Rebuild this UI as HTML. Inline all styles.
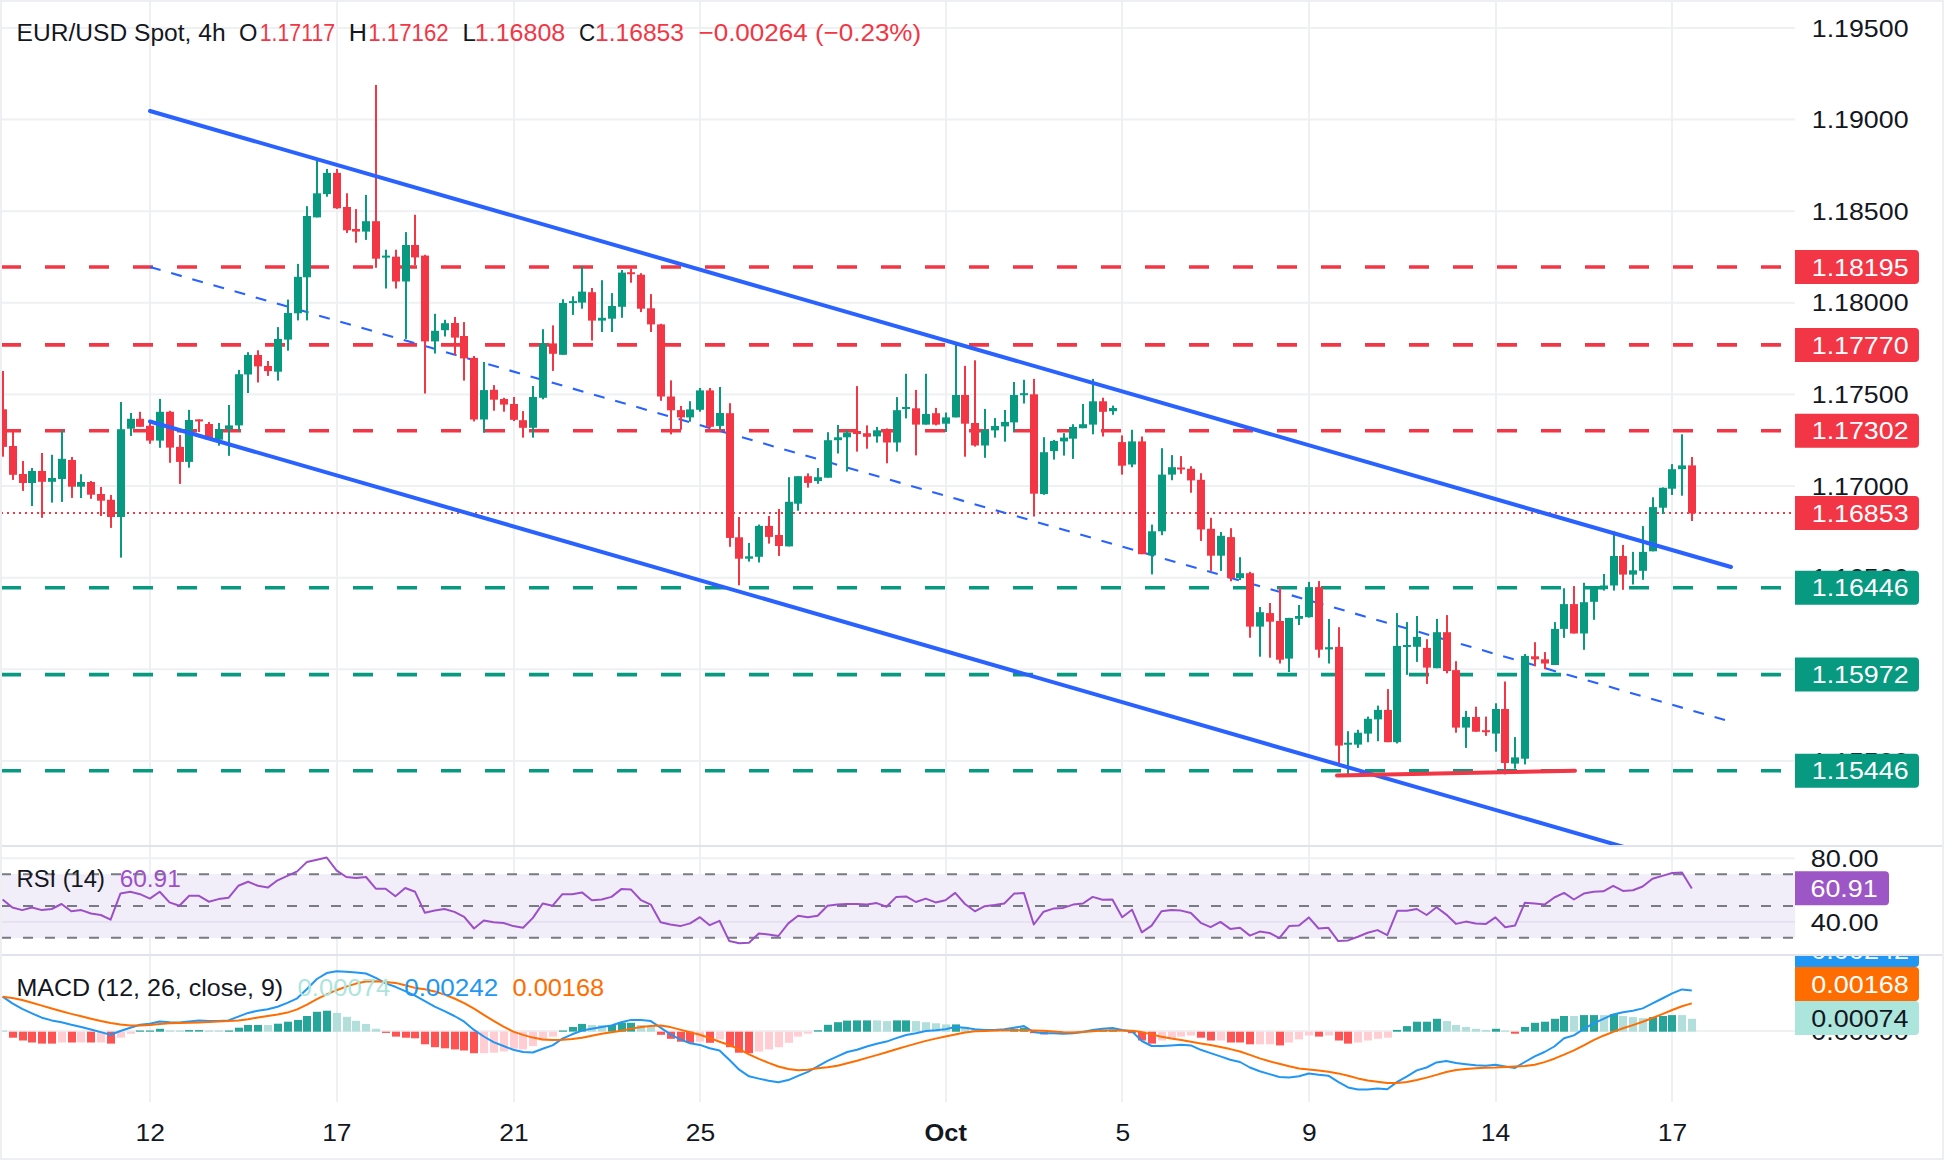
<!DOCTYPE html><html><head><meta charset="utf-8"><style>html,body{margin:0;padding:0;background:#fff;overflow:hidden;width:1944px;height:1160px;}svg{display:block;} text{font-family:"Liberation Sans", sans-serif;}</style></head><body>
<svg width="1944" height="1160" viewBox="0 0 1944 1160">
<rect x="0" y="0" width="1944" height="1160" fill="#fff"/>
<rect x="0" y="26.9" width="1795" height="2" fill="#EFF0F2"/>
<rect x="0" y="118.5" width="1795" height="2" fill="#EFF0F2"/>
<rect x="0" y="210.2" width="1795" height="2" fill="#EFF0F2"/>
<rect x="0" y="301.8" width="1795" height="2" fill="#EFF0F2"/>
<rect x="0" y="393.4" width="1795" height="2" fill="#EFF0F2"/>
<rect x="0" y="485.0" width="1795" height="2" fill="#EFF0F2"/>
<rect x="0" y="576.7" width="1795" height="2" fill="#EFF0F2"/>
<rect x="0" y="668.3" width="1795" height="2" fill="#EFF0F2"/>
<rect x="0" y="759.9" width="1795" height="2" fill="#EFF0F2"/>
<rect x="0" y="857.3" width="1795" height="2" fill="#EFF0F2"/>
<rect x="0" y="920.9" width="1795" height="2" fill="#EFF0F2"/>
<rect x="149" y="0" width="2" height="1102" fill="#EFF0F2"/>
<rect x="336" y="0" width="2" height="1102" fill="#EFF0F2"/>
<rect x="513" y="0" width="2" height="1102" fill="#EFF0F2"/>
<rect x="699" y="0" width="2" height="1102" fill="#EFF0F2"/>
<rect x="945" y="0" width="2" height="1102" fill="#EFF0F2"/>
<rect x="1121" y="0" width="2" height="1102" fill="#EFF0F2"/>
<rect x="1308" y="0" width="2" height="1102" fill="#EFF0F2"/>
<rect x="1495" y="0" width="2" height="1102" fill="#EFF0F2"/>
<rect x="1671" y="0" width="2" height="1102" fill="#EFF0F2"/>
<rect x="0" y="874.2" width="1795" height="63.8" fill="#F2EEF9"/>
<rect x="0" y="920.9" width="1795" height="2" fill="#E6E1F0"/>
<line x1="1" y1="874.2" x2="1795" y2="874.2" stroke="#787B86" stroke-width="2" stroke-dasharray="10 12"/>
<line x1="1" y1="906.0" x2="1795" y2="906.0" stroke="#787B86" stroke-width="2" stroke-dasharray="10 12"/>
<line x1="1" y1="937.8" x2="1795" y2="937.8" stroke="#787B86" stroke-width="2" stroke-dasharray="10 12"/>
<rect x="0" y="1030" width="1795" height="2" fill="#EFF0F2"/>
<line x1="1" y1="267.0" x2="1795" y2="267.0" stroke="#F23645" stroke-width="3.6" stroke-dasharray="20 24"/>
<line x1="1" y1="344.9" x2="1795" y2="344.9" stroke="#F23645" stroke-width="3.6" stroke-dasharray="20 24"/>
<line x1="1" y1="430.7" x2="1795" y2="430.7" stroke="#F23645" stroke-width="3.6" stroke-dasharray="20 24"/>
<line x1="1" y1="587.8" x2="1795" y2="587.8" stroke="#089981" stroke-width="3.6" stroke-dasharray="20 24"/>
<line x1="1" y1="674.6" x2="1795" y2="674.6" stroke="#089981" stroke-width="3.6" stroke-dasharray="20 24"/>
<line x1="1" y1="770.8" x2="1795" y2="770.8" stroke="#089981" stroke-width="3.6" stroke-dasharray="20 24"/>
<line x1="1" y1="513" x2="1795" y2="513" stroke="#F23645" stroke-width="2" stroke-dasharray="2 4"/>
<line x1="150" y1="267" x2="1725" y2="720" stroke="#2962FF" stroke-width="2.1" stroke-dasharray="11 11"/>
<rect x="2" y="371.0" width="2" height="85.7" fill="#F23645"/>
<rect x="-1" y="409.3" width="8" height="37.6" fill="#F23645"/>
<rect x="12" y="432.0" width="2" height="47.9" fill="#F23645"/>
<rect x="9" y="446.0" width="8" height="28.8" fill="#F23645"/>
<rect x="22" y="461.0" width="2" height="29.9" fill="#F23645"/>
<rect x="19" y="474.0" width="8" height="9.0" fill="#F23645"/>
<rect x="31" y="468.0" width="2" height="38.0" fill="#089981"/>
<rect x="28" y="471.0" width="8" height="12.0" fill="#089981"/>
<rect x="41" y="453.0" width="2" height="64.8" fill="#F23645"/>
<rect x="38" y="471.0" width="8" height="10.8" fill="#F23645"/>
<rect x="51" y="454.8" width="2" height="47.8" fill="#089981"/>
<rect x="48" y="478.0" width="8" height="3.8" fill="#089981"/>
<rect x="61" y="430.0" width="2" height="71.9" fill="#089981"/>
<rect x="58" y="458.8" width="8" height="20.2" fill="#089981"/>
<rect x="71" y="457.0" width="2" height="40.9" fill="#F23645"/>
<rect x="68" y="460.0" width="8" height="26.7" fill="#F23645"/>
<rect x="80" y="474.2" width="2" height="23.8" fill="#089981"/>
<rect x="77" y="482.0" width="8" height="4.7" fill="#089981"/>
<rect x="90" y="481.0" width="2" height="17.8" fill="#F23645"/>
<rect x="87" y="482.0" width="8" height="12.7" fill="#F23645"/>
<rect x="100" y="487.0" width="2" height="29.0" fill="#F23645"/>
<rect x="97" y="494.0" width="8" height="6.7" fill="#F23645"/>
<rect x="110" y="495.0" width="2" height="32.9" fill="#F23645"/>
<rect x="107" y="499.8" width="8" height="17.2" fill="#F23645"/>
<rect x="120" y="402.0" width="2" height="155.6" fill="#089981"/>
<rect x="117" y="429.2" width="8" height="87.8" fill="#089981"/>
<rect x="130" y="413.0" width="2" height="22.9" fill="#089981"/>
<rect x="127" y="418.8" width="8" height="9.9" fill="#089981"/>
<rect x="139" y="411.8" width="2" height="15.0" fill="#F23645"/>
<rect x="136" y="418.8" width="8" height="8.0" fill="#F23645"/>
<rect x="149" y="422.6" width="2" height="21.2" fill="#F23645"/>
<rect x="146" y="425.8" width="8" height="14.8" fill="#F23645"/>
<rect x="159" y="398.9" width="2" height="48.9" fill="#089981"/>
<rect x="156" y="411.8" width="8" height="28.8" fill="#089981"/>
<rect x="169" y="410.8" width="2" height="52.0" fill="#F23645"/>
<rect x="166" y="411.8" width="8" height="35.8" fill="#F23645"/>
<rect x="179" y="435.0" width="2" height="48.9" fill="#F23645"/>
<rect x="176" y="446.9" width="8" height="15.0" fill="#F23645"/>
<rect x="188" y="409.9" width="2" height="57.8" fill="#089981"/>
<rect x="185" y="420.0" width="8" height="41.9" fill="#089981"/>
<rect x="198" y="419.4" width="2" height="12.6" fill="#F23645"/>
<rect x="195" y="419.4" width="8" height="2.0" fill="#F23645"/>
<rect x="208" y="422.0" width="2" height="17.7" fill="#F23645"/>
<rect x="205" y="424.0" width="8" height="15.3" fill="#F23645"/>
<rect x="218" y="423.0" width="2" height="22.7" fill="#089981"/>
<rect x="215" y="429.0" width="8" height="10.7" fill="#089981"/>
<rect x="228" y="405.0" width="2" height="50.8" fill="#089981"/>
<rect x="225" y="425.4" width="8" height="3.8" fill="#089981"/>
<rect x="238" y="369.9" width="2" height="61.1" fill="#089981"/>
<rect x="235" y="374.2" width="8" height="51.2" fill="#089981"/>
<rect x="247" y="352.2" width="2" height="40.8" fill="#089981"/>
<rect x="244" y="355.0" width="8" height="19.5" fill="#089981"/>
<rect x="257" y="350.3" width="2" height="32.2" fill="#F23645"/>
<rect x="254" y="355.0" width="8" height="11.4" fill="#F23645"/>
<rect x="267" y="361.0" width="2" height="14.9" fill="#F23645"/>
<rect x="264" y="366.0" width="8" height="5.1" fill="#F23645"/>
<rect x="277" y="327.1" width="2" height="53.5" fill="#089981"/>
<rect x="274" y="338.9" width="8" height="32.8" fill="#089981"/>
<rect x="287" y="299.6" width="2" height="51.1" fill="#089981"/>
<rect x="284" y="313.0" width="8" height="26.6" fill="#089981"/>
<rect x="297" y="263.9" width="2" height="56.5" fill="#089981"/>
<rect x="294" y="276.8" width="8" height="36.5" fill="#089981"/>
<rect x="306" y="206.2" width="2" height="114.2" fill="#089981"/>
<rect x="303" y="216.0" width="8" height="61.3" fill="#089981"/>
<rect x="316" y="159.2" width="2" height="58.2" fill="#089981"/>
<rect x="313" y="193.3" width="8" height="24.1" fill="#089981"/>
<rect x="326" y="169.0" width="2" height="27.7" fill="#089981"/>
<rect x="323" y="172.9" width="8" height="21.2" fill="#089981"/>
<rect x="336" y="169.0" width="2" height="39.8" fill="#F23645"/>
<rect x="333" y="172.9" width="8" height="35.4" fill="#F23645"/>
<rect x="346" y="193.3" width="2" height="39.6" fill="#F23645"/>
<rect x="343" y="207.0" width="8" height="23.3" fill="#F23645"/>
<rect x="355" y="209.1" width="2" height="33.6" fill="#F23645"/>
<rect x="352" y="229.0" width="8" height="2.6" fill="#F23645"/>
<rect x="365" y="194.9" width="2" height="45.0" fill="#089981"/>
<rect x="362" y="221.2" width="8" height="10.4" fill="#089981"/>
<rect x="375" y="85.0" width="2" height="182.8" fill="#F23645"/>
<rect x="372" y="221.2" width="8" height="37.5" fill="#F23645"/>
<rect x="385" y="249.7" width="2" height="38.8" fill="#089981"/>
<rect x="382" y="255.6" width="8" height="2.0" fill="#089981"/>
<rect x="395" y="249.7" width="2" height="38.8" fill="#F23645"/>
<rect x="392" y="256.7" width="8" height="24.8" fill="#F23645"/>
<rect x="405" y="232.1" width="2" height="106.8" fill="#089981"/>
<rect x="402" y="245.0" width="8" height="36.5" fill="#089981"/>
<rect x="414" y="214.8" width="2" height="50.4" fill="#F23645"/>
<rect x="411" y="245.0" width="8" height="12.4" fill="#F23645"/>
<rect x="424" y="254.8" width="2" height="138.7" fill="#F23645"/>
<rect x="421" y="255.6" width="8" height="85.8" fill="#F23645"/>
<rect x="434" y="313.8" width="2" height="39.7" fill="#089981"/>
<rect x="431" y="330.8" width="8" height="10.6" fill="#089981"/>
<rect x="444" y="319.8" width="2" height="16.7" fill="#089981"/>
<rect x="441" y="323.2" width="8" height="7.0" fill="#089981"/>
<rect x="454" y="317.0" width="2" height="38.0" fill="#F23645"/>
<rect x="451" y="323.0" width="8" height="14.6" fill="#F23645"/>
<rect x="463" y="322.1" width="2" height="58.5" fill="#F23645"/>
<rect x="460" y="336.0" width="8" height="22.4" fill="#F23645"/>
<rect x="473" y="356.0" width="2" height="65.4" fill="#F23645"/>
<rect x="470" y="357.9" width="8" height="61.6" fill="#F23645"/>
<rect x="483" y="362.0" width="2" height="70.8" fill="#089981"/>
<rect x="480" y="390.1" width="8" height="29.4" fill="#089981"/>
<rect x="493" y="385.1" width="2" height="25.6" fill="#F23645"/>
<rect x="490" y="389.8" width="8" height="9.9" fill="#F23645"/>
<rect x="503" y="397.8" width="2" height="13.9" fill="#F23645"/>
<rect x="500" y="399.0" width="8" height="5.6" fill="#F23645"/>
<rect x="513" y="397.0" width="2" height="24.1" fill="#F23645"/>
<rect x="510" y="404.0" width="8" height="15.8" fill="#F23645"/>
<rect x="522" y="411.1" width="2" height="26.5" fill="#F23645"/>
<rect x="519" y="420.2" width="8" height="7.6" fill="#F23645"/>
<rect x="532" y="386.0" width="2" height="51.6" fill="#089981"/>
<rect x="529" y="397.0" width="8" height="30.8" fill="#089981"/>
<rect x="542" y="329.2" width="2" height="70.1" fill="#089981"/>
<rect x="539" y="343.4" width="8" height="54.4" fill="#089981"/>
<rect x="552" y="325.4" width="2" height="45.5" fill="#F23645"/>
<rect x="549" y="343.4" width="8" height="10.4" fill="#F23645"/>
<rect x="562" y="299.2" width="2" height="55.6" fill="#089981"/>
<rect x="559" y="303.0" width="8" height="51.8" fill="#089981"/>
<rect x="572" y="296.3" width="2" height="18.6" fill="#089981"/>
<rect x="569" y="301.1" width="8" height="2.0" fill="#089981"/>
<rect x="581" y="266.2" width="2" height="42.5" fill="#089981"/>
<rect x="578" y="291.6" width="8" height="11.0" fill="#089981"/>
<rect x="591" y="288.0" width="2" height="52.5" fill="#F23645"/>
<rect x="588" y="292.2" width="8" height="28.4" fill="#F23645"/>
<rect x="601" y="280.2" width="2" height="51.8" fill="#089981"/>
<rect x="598" y="317.8" width="8" height="2.8" fill="#089981"/>
<rect x="611" y="293.1" width="2" height="38.9" fill="#089981"/>
<rect x="608" y="306.0" width="8" height="12.7" fill="#089981"/>
<rect x="621" y="270.0" width="2" height="47.8" fill="#089981"/>
<rect x="618" y="272.6" width="8" height="34.2" fill="#089981"/>
<rect x="630" y="268.5" width="2" height="14.2" fill="#F23645"/>
<rect x="627" y="272.2" width="8" height="2.0" fill="#F23645"/>
<rect x="640" y="273.2" width="2" height="38.9" fill="#F23645"/>
<rect x="637" y="274.7" width="8" height="34.0" fill="#F23645"/>
<rect x="650" y="294.1" width="2" height="37.9" fill="#F23645"/>
<rect x="647" y="308.3" width="8" height="16.1" fill="#F23645"/>
<rect x="660" y="323.8" width="2" height="77.0" fill="#F23645"/>
<rect x="657" y="324.4" width="8" height="72.1" fill="#F23645"/>
<rect x="670" y="380.4" width="2" height="54.0" fill="#F23645"/>
<rect x="667" y="396.5" width="8" height="13.8" fill="#F23645"/>
<rect x="680" y="406.0" width="2" height="23.7" fill="#F23645"/>
<rect x="677" y="410.1" width="8" height="7.3" fill="#F23645"/>
<rect x="689" y="401.2" width="2" height="20.5" fill="#089981"/>
<rect x="686" y="409.4" width="8" height="8.0" fill="#089981"/>
<rect x="699" y="388.0" width="2" height="23.7" fill="#089981"/>
<rect x="696" y="390.4" width="8" height="19.4" fill="#089981"/>
<rect x="709" y="388.0" width="2" height="39.8" fill="#F23645"/>
<rect x="706" y="390.4" width="8" height="36.4" fill="#F23645"/>
<rect x="719" y="387.0" width="2" height="42.7" fill="#089981"/>
<rect x="716" y="413.0" width="8" height="12.9" fill="#089981"/>
<rect x="729" y="403.2" width="2" height="143.6" fill="#F23645"/>
<rect x="726" y="413.2" width="8" height="124.7" fill="#F23645"/>
<rect x="738" y="517.0" width="2" height="68.3" fill="#F23645"/>
<rect x="735" y="537.3" width="8" height="21.4" fill="#F23645"/>
<rect x="748" y="543.0" width="2" height="18.6" fill="#089981"/>
<rect x="745" y="556.3" width="8" height="2.4" fill="#089981"/>
<rect x="758" y="524.6" width="2" height="37.9" fill="#089981"/>
<rect x="755" y="525.9" width="8" height="30.9" fill="#089981"/>
<rect x="768" y="516.0" width="2" height="27.6" fill="#F23645"/>
<rect x="765" y="525.9" width="8" height="11.0" fill="#F23645"/>
<rect x="778" y="509.0" width="2" height="46.9" fill="#F23645"/>
<rect x="775" y="535.0" width="8" height="11.0" fill="#F23645"/>
<rect x="788" y="477.2" width="2" height="69.2" fill="#089981"/>
<rect x="785" y="501.8" width="8" height="44.6" fill="#089981"/>
<rect x="797" y="476.2" width="2" height="34.5" fill="#089981"/>
<rect x="794" y="476.2" width="8" height="27.5" fill="#089981"/>
<rect x="807" y="473.4" width="2" height="14.2" fill="#F23645"/>
<rect x="804" y="476.2" width="8" height="6.7" fill="#F23645"/>
<rect x="817" y="468.0" width="2" height="15.8" fill="#089981"/>
<rect x="814" y="477.2" width="8" height="3.8" fill="#089981"/>
<rect x="827" y="432.2" width="2" height="45.5" fill="#089981"/>
<rect x="824" y="440.2" width="8" height="37.5" fill="#089981"/>
<rect x="837" y="425.0" width="2" height="28.5" fill="#089981"/>
<rect x="834" y="437.3" width="8" height="2.9" fill="#089981"/>
<rect x="846" y="430.3" width="2" height="41.2" fill="#089981"/>
<rect x="843" y="432.6" width="8" height="4.7" fill="#089981"/>
<rect x="856" y="386.1" width="2" height="65.5" fill="#F23645"/>
<rect x="853" y="431.0" width="8" height="3.0" fill="#F23645"/>
<rect x="866" y="425.4" width="2" height="23.3" fill="#F23645"/>
<rect x="863" y="433.2" width="8" height="3.6" fill="#F23645"/>
<rect x="876" y="426.9" width="2" height="15.7" fill="#089981"/>
<rect x="873" y="430.3" width="8" height="6.1" fill="#089981"/>
<rect x="886" y="428.4" width="2" height="34.9" fill="#F23645"/>
<rect x="883" y="429.2" width="8" height="13.3" fill="#F23645"/>
<rect x="896" y="397.1" width="2" height="54.5" fill="#089981"/>
<rect x="893" y="410.2" width="8" height="32.3" fill="#089981"/>
<rect x="905" y="373.8" width="2" height="44.6" fill="#089981"/>
<rect x="902" y="407.0" width="8" height="2.0" fill="#089981"/>
<rect x="915" y="389.9" width="2" height="65.5" fill="#F23645"/>
<rect x="912" y="408.3" width="8" height="16.3" fill="#F23645"/>
<rect x="925" y="373.8" width="2" height="50.8" fill="#089981"/>
<rect x="922" y="414.0" width="8" height="10.6" fill="#089981"/>
<rect x="935" y="407.9" width="2" height="17.5" fill="#F23645"/>
<rect x="932" y="413.2" width="8" height="11.4" fill="#F23645"/>
<rect x="945" y="412.5" width="2" height="19.5" fill="#089981"/>
<rect x="942" y="417.4" width="8" height="6.3" fill="#089981"/>
<rect x="955" y="342.3" width="2" height="75.1" fill="#089981"/>
<rect x="952" y="395.0" width="8" height="22.4" fill="#089981"/>
<rect x="964" y="365.9" width="2" height="90.8" fill="#F23645"/>
<rect x="961" y="395.0" width="8" height="28.7" fill="#F23645"/>
<rect x="974" y="360.3" width="2" height="86.3" fill="#F23645"/>
<rect x="971" y="423.0" width="8" height="22.5" fill="#F23645"/>
<rect x="984" y="408.9" width="2" height="48.9" fill="#089981"/>
<rect x="981" y="429.8" width="8" height="15.7" fill="#089981"/>
<rect x="994" y="418.1" width="2" height="19.5" fill="#089981"/>
<rect x="991" y="426.0" width="8" height="4.4" fill="#089981"/>
<rect x="1004" y="410.0" width="2" height="31.7" fill="#089981"/>
<rect x="1001" y="421.9" width="8" height="4.5" fill="#089981"/>
<rect x="1013" y="382.0" width="2" height="50.0" fill="#089981"/>
<rect x="1010" y="395.0" width="8" height="27.4" fill="#089981"/>
<rect x="1023" y="379.8" width="2" height="23.7" fill="#089981"/>
<rect x="1020" y="393.2" width="8" height="2.0" fill="#089981"/>
<rect x="1033" y="378.9" width="2" height="137.6" fill="#F23645"/>
<rect x="1030" y="394.3" width="8" height="99.4" fill="#F23645"/>
<rect x="1043" y="437.2" width="2" height="57.6" fill="#089981"/>
<rect x="1040" y="452.2" width="8" height="41.9" fill="#089981"/>
<rect x="1053" y="439.9" width="2" height="19.7" fill="#089981"/>
<rect x="1050" y="441.0" width="8" height="10.1" fill="#089981"/>
<rect x="1063" y="433.1" width="2" height="22.5" fill="#089981"/>
<rect x="1060" y="437.6" width="8" height="3.8" fill="#089981"/>
<rect x="1072" y="424.2" width="2" height="34.7" fill="#089981"/>
<rect x="1069" y="426.9" width="8" height="11.8" fill="#089981"/>
<rect x="1082" y="404.0" width="2" height="24.2" fill="#089981"/>
<rect x="1079" y="424.2" width="8" height="4.0" fill="#089981"/>
<rect x="1092" y="378.9" width="2" height="55.4" fill="#089981"/>
<rect x="1089" y="401.3" width="8" height="23.3" fill="#089981"/>
<rect x="1102" y="397.7" width="2" height="38.8" fill="#F23645"/>
<rect x="1099" y="401.3" width="8" height="10.5" fill="#F23645"/>
<rect x="1112" y="405.6" width="2" height="9.2" fill="#089981"/>
<rect x="1109" y="408.0" width="8" height="3.2" fill="#089981"/>
<rect x="1121" y="435.4" width="2" height="39.2" fill="#F23645"/>
<rect x="1118" y="442.1" width="8" height="23.6" fill="#F23645"/>
<rect x="1131" y="429.8" width="2" height="37.4" fill="#089981"/>
<rect x="1128" y="441.4" width="8" height="23.1" fill="#089981"/>
<rect x="1141" y="436.5" width="2" height="117.7" fill="#F23645"/>
<rect x="1138" y="441.4" width="8" height="112.8" fill="#F23645"/>
<rect x="1151" y="524.6" width="2" height="49.8" fill="#089981"/>
<rect x="1148" y="531.3" width="8" height="24.0" fill="#089981"/>
<rect x="1161" y="448.2" width="2" height="87.0" fill="#089981"/>
<rect x="1158" y="474.6" width="8" height="56.7" fill="#089981"/>
<rect x="1171" y="455.1" width="2" height="25.1" fill="#089981"/>
<rect x="1168" y="467.2" width="8" height="7.4" fill="#089981"/>
<rect x="1180" y="456.1" width="2" height="17.7" fill="#F23645"/>
<rect x="1177" y="467.5" width="8" height="2.0" fill="#F23645"/>
<rect x="1190" y="466.2" width="2" height="26.5" fill="#F23645"/>
<rect x="1187" y="468.8" width="8" height="11.6" fill="#F23645"/>
<rect x="1200" y="473.2" width="2" height="67.7" fill="#F23645"/>
<rect x="1197" y="479.8" width="8" height="49.7" fill="#F23645"/>
<rect x="1210" y="517.8" width="2" height="53.1" fill="#F23645"/>
<rect x="1207" y="528.8" width="8" height="26.9" fill="#F23645"/>
<rect x="1220" y="532.0" width="2" height="38.9" fill="#089981"/>
<rect x="1217" y="535.8" width="8" height="19.9" fill="#089981"/>
<rect x="1230" y="528.2" width="2" height="53.1" fill="#F23645"/>
<rect x="1227" y="537.1" width="8" height="41.0" fill="#F23645"/>
<rect x="1239" y="557.2" width="2" height="22.8" fill="#089981"/>
<rect x="1236" y="573.2" width="8" height="4.9" fill="#089981"/>
<rect x="1249" y="571.8" width="2" height="65.9" fill="#F23645"/>
<rect x="1246" y="573.2" width="8" height="53.4" fill="#F23645"/>
<rect x="1259" y="607.0" width="2" height="49.7" fill="#089981"/>
<rect x="1256" y="612.2" width="8" height="14.4" fill="#089981"/>
<rect x="1269" y="603.0" width="2" height="54.7" fill="#F23645"/>
<rect x="1266" y="613.1" width="8" height="8.6" fill="#F23645"/>
<rect x="1279" y="587.1" width="2" height="76.4" fill="#F23645"/>
<rect x="1276" y="621.0" width="8" height="38.7" fill="#F23645"/>
<rect x="1288" y="617.9" width="2" height="54.1" fill="#089981"/>
<rect x="1285" y="617.9" width="8" height="40.7" fill="#089981"/>
<rect x="1298" y="605.0" width="2" height="20.0" fill="#089981"/>
<rect x="1295" y="616.0" width="8" height="2.8" fill="#089981"/>
<rect x="1308" y="581.9" width="2" height="35.7" fill="#089981"/>
<rect x="1305" y="587.1" width="8" height="30.1" fill="#089981"/>
<rect x="1318" y="581.1" width="2" height="76.6" fill="#F23645"/>
<rect x="1315" y="587.1" width="8" height="62.6" fill="#F23645"/>
<rect x="1328" y="619.0" width="2" height="44.5" fill="#089981"/>
<rect x="1325" y="647.2" width="8" height="2.2" fill="#089981"/>
<rect x="1338" y="627.2" width="2" height="138.3" fill="#F23645"/>
<rect x="1335" y="646.9" width="8" height="98.7" fill="#F23645"/>
<rect x="1347" y="731.2" width="2" height="43.2" fill="#089981"/>
<rect x="1344" y="742.7" width="8" height="2.0" fill="#089981"/>
<rect x="1357" y="729.8" width="2" height="18.1" fill="#089981"/>
<rect x="1354" y="732.7" width="8" height="11.9" fill="#089981"/>
<rect x="1367" y="716.6" width="2" height="25.6" fill="#089981"/>
<rect x="1364" y="718.8" width="8" height="14.8" fill="#089981"/>
<rect x="1377" y="705.6" width="2" height="35.6" fill="#089981"/>
<rect x="1374" y="709.9" width="8" height="9.5" fill="#089981"/>
<rect x="1387" y="689.1" width="2" height="53.1" fill="#F23645"/>
<rect x="1384" y="709.9" width="8" height="32.3" fill="#F23645"/>
<rect x="1396" y="613.1" width="2" height="130.4" fill="#089981"/>
<rect x="1393" y="645.9" width="8" height="96.3" fill="#089981"/>
<rect x="1406" y="622.1" width="2" height="52.7" fill="#089981"/>
<rect x="1403" y="645.0" width="8" height="2.0" fill="#089981"/>
<rect x="1416" y="616.0" width="2" height="45.9" fill="#089981"/>
<rect x="1413" y="636.9" width="8" height="9.9" fill="#089981"/>
<rect x="1426" y="639.2" width="2" height="44.7" fill="#F23645"/>
<rect x="1423" y="647.9" width="8" height="19.7" fill="#F23645"/>
<rect x="1436" y="618.9" width="2" height="49.3" fill="#089981"/>
<rect x="1433" y="632.2" width="8" height="36.0" fill="#089981"/>
<rect x="1446" y="615.1" width="2" height="58.2" fill="#F23645"/>
<rect x="1443" y="632.2" width="8" height="38.8" fill="#F23645"/>
<rect x="1455" y="661.2" width="2" height="71.5" fill="#F23645"/>
<rect x="1452" y="670.1" width="8" height="57.5" fill="#F23645"/>
<rect x="1465" y="710.9" width="2" height="37.0" fill="#089981"/>
<rect x="1462" y="717.0" width="8" height="10.6" fill="#089981"/>
<rect x="1475" y="706.7" width="2" height="25.0" fill="#F23645"/>
<rect x="1472" y="717.0" width="8" height="14.7" fill="#F23645"/>
<rect x="1485" y="716.6" width="2" height="19.3" fill="#F23645"/>
<rect x="1482" y="730.2" width="8" height="2.0" fill="#F23645"/>
<rect x="1495" y="703.3" width="2" height="48.4" fill="#089981"/>
<rect x="1492" y="709.0" width="8" height="24.6" fill="#089981"/>
<rect x="1504" y="681.5" width="2" height="92.9" fill="#F23645"/>
<rect x="1501" y="709.0" width="8" height="54.0" fill="#F23645"/>
<rect x="1514" y="737.1" width="2" height="31.6" fill="#089981"/>
<rect x="1511" y="757.4" width="8" height="6.2" fill="#089981"/>
<rect x="1524" y="654.0" width="2" height="110.4" fill="#089981"/>
<rect x="1521" y="655.9" width="8" height="102.8" fill="#089981"/>
<rect x="1534" y="642.2" width="2" height="24.1" fill="#F23645"/>
<rect x="1531" y="656.3" width="8" height="3.0" fill="#F23645"/>
<rect x="1544" y="652.1" width="2" height="17.1" fill="#F23645"/>
<rect x="1541" y="659.3" width="8" height="4.2" fill="#F23645"/>
<rect x="1554" y="622.1" width="2" height="42.9" fill="#089981"/>
<rect x="1551" y="628.9" width="8" height="36.1" fill="#089981"/>
<rect x="1563" y="588.3" width="2" height="49.6" fill="#089981"/>
<rect x="1560" y="604.1" width="8" height="24.8" fill="#089981"/>
<rect x="1573" y="586.1" width="2" height="47.4" fill="#F23645"/>
<rect x="1570" y="604.1" width="8" height="29.4" fill="#F23645"/>
<rect x="1583" y="582.8" width="2" height="67.0" fill="#089981"/>
<rect x="1580" y="602.2" width="8" height="31.3" fill="#089981"/>
<rect x="1593" y="586.0" width="2" height="33.8" fill="#089981"/>
<rect x="1590" y="588.3" width="8" height="13.5" fill="#089981"/>
<rect x="1603" y="574.0" width="2" height="16.6" fill="#089981"/>
<rect x="1600" y="585.5" width="8" height="3.7" fill="#089981"/>
<rect x="1613" y="531.4" width="2" height="59.2" fill="#089981"/>
<rect x="1610" y="556.0" width="8" height="29.5" fill="#089981"/>
<rect x="1622" y="545.0" width="2" height="44.8" fill="#F23645"/>
<rect x="1619" y="556.0" width="8" height="18.6" fill="#F23645"/>
<rect x="1632" y="551.9" width="2" height="32.6" fill="#089981"/>
<rect x="1629" y="570.3" width="8" height="4.3" fill="#089981"/>
<rect x="1642" y="526.1" width="2" height="53.7" fill="#089981"/>
<rect x="1639" y="551.9" width="8" height="18.9" fill="#089981"/>
<rect x="1652" y="497.3" width="2" height="54.0" fill="#089981"/>
<rect x="1649" y="507.1" width="8" height="44.2" fill="#089981"/>
<rect x="1662" y="487.4" width="2" height="26.6" fill="#089981"/>
<rect x="1659" y="487.8" width="8" height="19.9" fill="#089981"/>
<rect x="1671" y="464.1" width="2" height="30.9" fill="#089981"/>
<rect x="1668" y="469.2" width="8" height="19.5" fill="#089981"/>
<rect x="1681" y="434.3" width="2" height="61.4" fill="#089981"/>
<rect x="1678" y="465.4" width="8" height="3.8" fill="#089981"/>
<rect x="1691" y="457.0" width="2" height="64.0" fill="#F23645"/>
<rect x="1688" y="465.4" width="8" height="48.0" fill="#F23645"/>
<line x1="150" y1="111" x2="1731" y2="567" stroke="#2962FF" stroke-width="4" stroke-linecap="round"/>
<clipPath id="mainclip"><rect x="0" y="0" width="1795" height="845"/></clipPath>
<line clip-path="url(#mainclip)" x1="150" y1="421.5" x2="1625" y2="847.3" stroke="#2962FF" stroke-width="4" stroke-linecap="round"/>
<line x1="1337" y1="775.4" x2="1575" y2="770.8" stroke="#F23645" stroke-width="4" stroke-linecap="round"/>
<polyline points="2.6,899.5 12.4,907.5 22.2,910.1 32.0,907.5 41.9,910.1 51.7,909.0 61.5,904.0 71.3,911.3 81.2,910.1 91.0,913.5 100.8,915.0 110.6,919.7 120.4,893.6 130.3,891.8 140.1,894.2 149.9,898.6 159.7,891.8 169.5,902.4 179.4,905.7 189.2,895.8 199.0,895.8 208.8,901.7 218.6,899.1 228.5,897.8 238.3,885.8 248.1,881.8 257.9,885.8 267.8,887.6 277.6,880.3 287.4,875.9 297.2,871.4 307.0,861.9 316.9,859.7 326.7,857.5 336.5,870.3 346.3,877.0 356.1,878.1 366.0,877.0 375.8,888.7 385.6,888.7 395.4,896.2 405.2,888.0 415.1,891.8 424.9,912.8 434.7,910.6 444.5,909.0 454.4,911.9 464.2,916.8 474.0,928.5 483.8,920.5 493.6,922.3 503.5,923.0 513.3,926.1 523.1,927.8 532.9,917.9 542.7,903.5 552.6,905.7 562.4,894.2 572.2,894.2 582.0,892.4 591.8,900.2 601.7,899.5 611.5,896.9 621.3,889.1 631.1,889.6 641.0,900.2 650.8,904.6 660.6,922.3 670.4,924.5 680.2,926.1 690.1,923.4 699.9,917.2 709.7,925.2 719.5,920.8 729.3,941.1 739.2,943.3 749.0,942.7 758.8,933.4 768.6,934.5 778.4,936.0 788.3,923.4 798.1,915.7 807.9,917.2 817.7,915.7 827.5,905.7 837.4,904.6 847.2,904.0 857.0,904.0 866.8,904.6 876.7,903.1 886.5,906.8 896.3,896.9 906.1,896.4 915.9,902.0 925.8,898.6 935.6,902.4 945.4,900.2 955.2,892.9 965.0,904.0 974.9,911.3 984.7,906.2 994.5,905.1 1004.3,903.5 1014.1,893.6 1024.0,893.1 1033.8,924.5 1043.6,911.7 1053.4,908.6 1063.3,907.9 1073.1,904.6 1082.9,903.5 1092.7,896.9 1102.5,899.7 1112.4,899.5 1122.2,917.2 1132.0,909.7 1141.8,932.3 1151.6,925.6 1161.5,911.3 1171.3,910.1 1181.1,910.6 1190.9,913.0 1200.7,922.8 1210.6,927.2 1220.4,921.9 1230.2,928.9 1240.0,927.8 1249.9,935.6 1259.7,931.6 1269.5,932.9 1279.3,938.2 1289.1,926.1 1299.0,925.6 1308.8,917.4 1318.6,928.5 1328.4,927.8 1338.2,941.1 1348.1,940.4 1357.9,936.7 1367.7,932.7 1377.5,930.1 1387.3,935.1 1397.2,910.8 1407.0,910.8 1416.8,909.0 1426.6,915.0 1436.5,907.3 1446.3,914.6 1456.1,923.9 1465.9,921.6 1475.7,923.6 1485.6,924.1 1495.4,917.4 1505.2,927.2 1515.0,925.6 1524.8,902.8 1534.7,903.5 1544.5,904.6 1554.3,897.5 1564.1,892.9 1573.9,899.5 1583.8,893.6 1593.6,891.8 1603.4,891.3 1613.2,885.8 1623.0,890.9 1632.9,890.2 1642.7,886.5 1652.5,878.7 1662.3,875.9 1672.2,873.0 1682.0,872.5 1691.8,888.5" fill="none" stroke="#9C50C8" stroke-width="2" stroke-linejoin="round"/>
<rect x="-1" y="1030.5" width="8" height="1.2" fill="#B2DFDB"/>
<rect x="9" y="1031.7" width="8" height="6.0" fill="#FF5252"/>
<rect x="19" y="1031.7" width="8" height="8.8" fill="#FF5252"/>
<rect x="28" y="1031.7" width="8" height="10.8" fill="#FF5252"/>
<rect x="38" y="1031.7" width="8" height="11.9" fill="#FF5252"/>
<rect x="48" y="1031.7" width="8" height="11.9" fill="#FF5252"/>
<rect x="58" y="1031.7" width="8" height="10.8" fill="#FFCDD2"/>
<rect x="68" y="1031.7" width="8" height="10.8" fill="#FF5252"/>
<rect x="77" y="1031.7" width="8" height="10.8" fill="#FFCDD2"/>
<rect x="87" y="1031.7" width="8" height="10.8" fill="#FF5252"/>
<rect x="97" y="1031.7" width="8" height="10.8" fill="#FFCDD2"/>
<rect x="107" y="1031.7" width="8" height="11.9" fill="#FF5252"/>
<rect x="117" y="1031.7" width="8" height="6.0" fill="#FFCDD2"/>
<rect x="127" y="1031.7" width="8" height="2.0" fill="#FFCDD2"/>
<rect x="136" y="1030.5" width="8" height="1.2" fill="#26A69A"/>
<rect x="146" y="1030.5" width="8" height="1.2" fill="#26A69A"/>
<rect x="156" y="1028.8" width="8" height="2.9" fill="#26A69A"/>
<rect x="166" y="1030.5" width="8" height="1.2" fill="#B2DFDB"/>
<rect x="176" y="1030.5" width="8" height="1.2" fill="#B2DFDB"/>
<rect x="185" y="1030.1" width="8" height="1.5" fill="#26A69A"/>
<rect x="195" y="1030.1" width="8" height="1.5" fill="#26A69A"/>
<rect x="205" y="1030.5" width="8" height="1.2" fill="#B2DFDB"/>
<rect x="215" y="1030.5" width="8" height="1.2" fill="#B2DFDB"/>
<rect x="225" y="1030.5" width="8" height="1.2" fill="#26A69A"/>
<rect x="235" y="1027.7" width="8" height="4.0" fill="#26A69A"/>
<rect x="244" y="1025.0" width="8" height="6.6" fill="#26A69A"/>
<rect x="254" y="1025.0" width="8" height="6.6" fill="#26A69A"/>
<rect x="264" y="1025.0" width="8" height="6.6" fill="#B2DFDB"/>
<rect x="274" y="1023.7" width="8" height="8.0" fill="#26A69A"/>
<rect x="284" y="1021.7" width="8" height="10.0" fill="#26A69A"/>
<rect x="294" y="1019.9" width="8" height="11.7" fill="#26A69A"/>
<rect x="303" y="1016.0" width="8" height="15.7" fill="#26A69A"/>
<rect x="313" y="1011.8" width="8" height="19.9" fill="#26A69A"/>
<rect x="323" y="1010.7" width="8" height="21.0" fill="#26A69A"/>
<rect x="333" y="1012.9" width="8" height="18.8" fill="#B2DFDB"/>
<rect x="343" y="1016.8" width="8" height="14.8" fill="#B2DFDB"/>
<rect x="352" y="1020.8" width="8" height="10.8" fill="#B2DFDB"/>
<rect x="362" y="1023.9" width="8" height="7.7" fill="#B2DFDB"/>
<rect x="372" y="1028.8" width="8" height="2.9" fill="#B2DFDB"/>
<rect x="382" y="1031.7" width="8" height="1.2" fill="#FF5252"/>
<rect x="392" y="1031.7" width="8" height="4.9" fill="#FF5252"/>
<rect x="402" y="1031.7" width="8" height="6.0" fill="#FF5252"/>
<rect x="411" y="1031.7" width="8" height="6.6" fill="#FF5252"/>
<rect x="421" y="1031.7" width="8" height="12.6" fill="#FF5252"/>
<rect x="431" y="1031.7" width="8" height="15.5" fill="#FF5252"/>
<rect x="441" y="1031.7" width="8" height="16.6" fill="#FF5252"/>
<rect x="451" y="1031.7" width="8" height="17.7" fill="#FF5252"/>
<rect x="460" y="1031.7" width="8" height="18.8" fill="#FF5252"/>
<rect x="470" y="1031.7" width="8" height="21.5" fill="#FF5252"/>
<rect x="480" y="1031.7" width="8" height="21.5" fill="#FFCDD2"/>
<rect x="490" y="1031.7" width="8" height="21.0" fill="#FFCDD2"/>
<rect x="500" y="1031.7" width="8" height="19.7" fill="#FFCDD2"/>
<rect x="510" y="1031.7" width="8" height="17.0" fill="#FFCDD2"/>
<rect x="519" y="1031.7" width="8" height="17.7" fill="#FFCDD2"/>
<rect x="529" y="1031.7" width="8" height="14.4" fill="#FFCDD2"/>
<rect x="539" y="1031.7" width="8" height="8.8" fill="#FFCDD2"/>
<rect x="549" y="1031.7" width="8" height="4.9" fill="#FFCDD2"/>
<rect x="559" y="1030.5" width="8" height="1.2" fill="#26A69A"/>
<rect x="569" y="1027.0" width="8" height="4.6" fill="#26A69A"/>
<rect x="578" y="1023.9" width="8" height="7.7" fill="#26A69A"/>
<rect x="588" y="1025.0" width="8" height="6.6" fill="#B2DFDB"/>
<rect x="598" y="1025.0" width="8" height="6.6" fill="#B2DFDB"/>
<rect x="608" y="1025.0" width="8" height="6.6" fill="#26A69A"/>
<rect x="618" y="1022.6" width="8" height="9.1" fill="#26A69A"/>
<rect x="627" y="1022.8" width="8" height="8.8" fill="#26A69A"/>
<rect x="637" y="1025.0" width="8" height="6.6" fill="#B2DFDB"/>
<rect x="647" y="1026.6" width="8" height="5.1" fill="#B2DFDB"/>
<rect x="657" y="1031.7" width="8" height="3.1" fill="#FF5252"/>
<rect x="667" y="1031.7" width="8" height="7.1" fill="#FF5252"/>
<rect x="677" y="1031.7" width="8" height="10.0" fill="#FF5252"/>
<rect x="686" y="1031.7" width="8" height="11.1" fill="#FF5252"/>
<rect x="696" y="1031.7" width="8" height="10.0" fill="#FFCDD2"/>
<rect x="706" y="1031.7" width="8" height="11.1" fill="#FF5252"/>
<rect x="716" y="1031.7" width="8" height="7.7" fill="#FFCDD2"/>
<rect x="726" y="1031.7" width="8" height="15.5" fill="#FF5252"/>
<rect x="735" y="1031.7" width="8" height="21.0" fill="#FF5252"/>
<rect x="745" y="1031.7" width="8" height="21.5" fill="#FF5252"/>
<rect x="755" y="1031.7" width="8" height="19.9" fill="#FFCDD2"/>
<rect x="765" y="1031.7" width="8" height="17.7" fill="#FFCDD2"/>
<rect x="775" y="1031.7" width="8" height="15.5" fill="#FFCDD2"/>
<rect x="785" y="1031.7" width="8" height="11.1" fill="#FFCDD2"/>
<rect x="794" y="1031.7" width="8" height="4.9" fill="#FFCDD2"/>
<rect x="804" y="1031.7" width="8" height="2.0" fill="#FFCDD2"/>
<rect x="814" y="1030.3" width="8" height="1.3" fill="#26A69A"/>
<rect x="824" y="1024.8" width="8" height="6.9" fill="#26A69A"/>
<rect x="834" y="1022.2" width="8" height="9.5" fill="#26A69A"/>
<rect x="843" y="1020.6" width="8" height="11.1" fill="#26A69A"/>
<rect x="853" y="1020.4" width="8" height="11.3" fill="#26A69A"/>
<rect x="863" y="1020.4" width="8" height="11.3" fill="#26A69A"/>
<rect x="873" y="1020.4" width="8" height="11.3" fill="#B2DFDB"/>
<rect x="883" y="1021.1" width="8" height="10.6" fill="#B2DFDB"/>
<rect x="893" y="1020.4" width="8" height="11.3" fill="#26A69A"/>
<rect x="902" y="1020.4" width="8" height="11.3" fill="#26A69A"/>
<rect x="912" y="1021.1" width="8" height="10.6" fill="#B2DFDB"/>
<rect x="922" y="1022.2" width="8" height="9.5" fill="#B2DFDB"/>
<rect x="932" y="1023.3" width="8" height="8.4" fill="#B2DFDB"/>
<rect x="942" y="1024.4" width="8" height="7.3" fill="#B2DFDB"/>
<rect x="952" y="1024.4" width="8" height="7.3" fill="#26A69A"/>
<rect x="961" y="1027.0" width="8" height="4.6" fill="#B2DFDB"/>
<rect x="971" y="1029.9" width="8" height="1.8" fill="#B2DFDB"/>
<rect x="981" y="1030.5" width="8" height="1.2" fill="#B2DFDB"/>
<rect x="991" y="1030.5" width="8" height="1.2" fill="#B2DFDB"/>
<rect x="1001" y="1030.5" width="8" height="1.2" fill="#B2DFDB"/>
<rect x="1010" y="1028.8" width="8" height="2.9" fill="#26A69A"/>
<rect x="1020" y="1027.7" width="8" height="4.0" fill="#26A69A"/>
<rect x="1030" y="1031.7" width="8" height="1.5" fill="#FF5252"/>
<rect x="1040" y="1031.7" width="8" height="2.7" fill="#FF5252"/>
<rect x="1050" y="1031.7" width="8" height="2.0" fill="#FFCDD2"/>
<rect x="1060" y="1031.7" width="8" height="1.2" fill="#FFCDD2"/>
<rect x="1069" y="1031.7" width="8" height="1.2" fill="#FFCDD2"/>
<rect x="1079" y="1030.5" width="8" height="1.2" fill="#B2DFDB"/>
<rect x="1089" y="1030.5" width="8" height="1.2" fill="#26A69A"/>
<rect x="1099" y="1029.9" width="8" height="1.8" fill="#26A69A"/>
<rect x="1109" y="1029.5" width="8" height="2.2" fill="#26A69A"/>
<rect x="1118" y="1030.5" width="8" height="1.2" fill="#B2DFDB"/>
<rect x="1128" y="1031.7" width="8" height="1.5" fill="#FF5252"/>
<rect x="1138" y="1031.7" width="8" height="8.8" fill="#FF5252"/>
<rect x="1148" y="1031.7" width="8" height="11.9" fill="#FF5252"/>
<rect x="1158" y="1031.7" width="8" height="8.8" fill="#FFCDD2"/>
<rect x="1168" y="1031.7" width="8" height="6.6" fill="#FFCDD2"/>
<rect x="1177" y="1031.7" width="8" height="4.9" fill="#FFCDD2"/>
<rect x="1187" y="1031.7" width="8" height="3.8" fill="#FFCDD2"/>
<rect x="1197" y="1031.7" width="8" height="6.0" fill="#FF5252"/>
<rect x="1207" y="1031.7" width="8" height="8.8" fill="#FF5252"/>
<rect x="1217" y="1031.7" width="8" height="8.8" fill="#FFCDD2"/>
<rect x="1227" y="1031.7" width="8" height="10.8" fill="#FF5252"/>
<rect x="1236" y="1031.7" width="8" height="10.8" fill="#FF5252"/>
<rect x="1246" y="1031.7" width="8" height="12.6" fill="#FF5252"/>
<rect x="1256" y="1031.7" width="8" height="12.6" fill="#FFCDD2"/>
<rect x="1266" y="1031.7" width="8" height="12.6" fill="#FFCDD2"/>
<rect x="1276" y="1031.7" width="8" height="13.7" fill="#FF5252"/>
<rect x="1285" y="1031.7" width="8" height="10.8" fill="#FFCDD2"/>
<rect x="1295" y="1031.7" width="8" height="7.7" fill="#FFCDD2"/>
<rect x="1305" y="1031.7" width="8" height="3.8" fill="#FFCDD2"/>
<rect x="1315" y="1031.7" width="8" height="4.9" fill="#FF5252"/>
<rect x="1325" y="1031.7" width="8" height="3.8" fill="#FFCDD2"/>
<rect x="1335" y="1031.7" width="8" height="8.8" fill="#FF5252"/>
<rect x="1344" y="1031.7" width="8" height="11.9" fill="#FF5252"/>
<rect x="1354" y="1031.7" width="8" height="10.8" fill="#FFCDD2"/>
<rect x="1364" y="1031.7" width="8" height="8.8" fill="#FFCDD2"/>
<rect x="1374" y="1031.7" width="8" height="7.1" fill="#FFCDD2"/>
<rect x="1384" y="1031.7" width="8" height="6.0" fill="#FFCDD2"/>
<rect x="1393" y="1029.9" width="8" height="1.8" fill="#26A69A"/>
<rect x="1403" y="1026.1" width="8" height="5.5" fill="#26A69A"/>
<rect x="1413" y="1021.7" width="8" height="10.0" fill="#26A69A"/>
<rect x="1423" y="1021.7" width="8" height="10.0" fill="#26A69A"/>
<rect x="1433" y="1018.8" width="8" height="12.8" fill="#26A69A"/>
<rect x="1443" y="1021.1" width="8" height="10.6" fill="#B2DFDB"/>
<rect x="1452" y="1025.0" width="8" height="6.6" fill="#B2DFDB"/>
<rect x="1462" y="1027.0" width="8" height="4.6" fill="#B2DFDB"/>
<rect x="1472" y="1028.8" width="8" height="2.9" fill="#B2DFDB"/>
<rect x="1482" y="1029.9" width="8" height="1.8" fill="#B2DFDB"/>
<rect x="1492" y="1028.8" width="8" height="2.9" fill="#26A69A"/>
<rect x="1501" y="1030.5" width="8" height="1.2" fill="#B2DFDB"/>
<rect x="1511" y="1031.7" width="8" height="2.0" fill="#FF5252"/>
<rect x="1521" y="1027.0" width="8" height="4.6" fill="#26A69A"/>
<rect x="1531" y="1022.8" width="8" height="8.8" fill="#26A69A"/>
<rect x="1541" y="1021.7" width="8" height="10.0" fill="#26A69A"/>
<rect x="1551" y="1018.8" width="8" height="12.8" fill="#26A69A"/>
<rect x="1560" y="1016.0" width="8" height="15.7" fill="#26A69A"/>
<rect x="1570" y="1016.0" width="8" height="15.7" fill="#B2DFDB"/>
<rect x="1580" y="1015.1" width="8" height="16.6" fill="#26A69A"/>
<rect x="1590" y="1015.1" width="8" height="16.6" fill="#26A69A"/>
<rect x="1600" y="1015.1" width="8" height="16.6" fill="#B2DFDB"/>
<rect x="1610" y="1014.0" width="8" height="17.7" fill="#26A69A"/>
<rect x="1619" y="1016.0" width="8" height="15.7" fill="#B2DFDB"/>
<rect x="1629" y="1017.1" width="8" height="14.6" fill="#B2DFDB"/>
<rect x="1639" y="1018.2" width="8" height="13.5" fill="#B2DFDB"/>
<rect x="1649" y="1017.1" width="8" height="14.6" fill="#26A69A"/>
<rect x="1659" y="1016.0" width="8" height="15.7" fill="#26A69A"/>
<rect x="1668" y="1015.1" width="8" height="16.6" fill="#26A69A"/>
<rect x="1678" y="1015.1" width="8" height="16.6" fill="#B2DFDB"/>
<rect x="1688" y="1018.8" width="8" height="12.8" fill="#B2DFDB"/>
<polyline points="2.6,996.7 12.4,1003.4 22.2,1008.9 32.0,1013.3 41.9,1017.7 51.7,1020.4 61.5,1022.2 71.3,1024.8 81.2,1027.0 91.0,1029.5 100.8,1032.1 110.6,1034.8 120.4,1031.0 130.3,1027.7 140.1,1024.8 149.9,1023.7 159.7,1021.5 169.5,1022.2 179.4,1022.6 189.2,1021.5 199.0,1020.6 208.8,1021.1 218.6,1021.1 228.5,1020.4 238.3,1016.6 248.1,1012.9 257.9,1010.7 267.8,1009.3 277.6,1006.7 287.4,1002.9 297.2,998.3 307.0,989.0 316.9,979.0 326.7,973.1 336.5,971.3 346.3,971.7 356.1,972.4 366.0,973.5 375.8,977.9 385.6,983.4 395.4,986.8 405.2,991.2 415.1,995.6 424.9,1001.1 434.7,1006.7 444.5,1011.1 454.4,1016.0 464.2,1021.7 474.0,1029.9 483.8,1036.5 493.6,1042.1 503.5,1046.0 513.3,1049.8 523.1,1052.0 532.9,1052.5 542.7,1048.7 552.6,1045.4 562.4,1038.7 572.2,1034.3 582.0,1030.6 591.8,1028.8 601.7,1027.0 611.5,1025.5 621.3,1022.2 631.1,1019.9 641.0,1019.9 650.8,1021.1 660.6,1027.7 670.4,1034.3 680.2,1039.4 690.1,1043.2 699.9,1044.9 709.7,1048.3 719.5,1050.5 729.3,1059.8 739.2,1069.7 749.0,1076.3 758.8,1078.6 768.6,1080.8 778.4,1082.3 788.3,1080.1 798.1,1075.9 807.9,1071.9 817.7,1066.4 827.5,1060.9 837.4,1056.4 847.2,1052.0 857.0,1049.8 866.8,1046.5 876.7,1043.8 886.5,1041.6 896.3,1038.1 906.1,1035.0 915.9,1033.2 925.8,1031.0 935.6,1030.3 945.4,1029.2 955.2,1027.0 965.0,1027.7 974.9,1029.2 984.7,1029.9 994.5,1029.9 1004.3,1029.2 1014.1,1027.7 1024.0,1026.1 1033.8,1032.1 1043.6,1033.2 1053.4,1033.2 1063.3,1033.7 1073.1,1033.2 1082.9,1032.1 1092.7,1029.9 1102.5,1028.8 1112.4,1028.1 1122.2,1029.9 1132.0,1031.4 1141.8,1041.0 1151.6,1046.0 1161.5,1046.0 1171.3,1045.4 1181.1,1044.7 1190.9,1045.4 1200.7,1049.8 1210.6,1053.1 1220.4,1056.4 1230.2,1059.8 1240.0,1062.0 1249.9,1067.5 1259.7,1071.3 1269.5,1074.1 1279.3,1077.0 1289.1,1077.5 1299.0,1076.3 1308.8,1073.5 1318.6,1074.8 1328.4,1075.7 1338.2,1081.9 1348.1,1087.4 1357.9,1089.6 1367.7,1089.6 1377.5,1088.5 1387.3,1089.2 1397.2,1081.9 1407.0,1076.3 1416.8,1070.4 1426.6,1067.5 1436.5,1062.4 1446.3,1060.9 1456.1,1063.1 1465.9,1064.2 1475.7,1065.3 1485.6,1065.7 1495.4,1064.8 1505.2,1066.4 1515.0,1067.9 1524.8,1062.0 1534.7,1056.4 1544.5,1052.0 1554.3,1046.5 1564.1,1038.3 1573.9,1035.4 1583.8,1028.8 1593.6,1023.3 1603.4,1018.8 1613.2,1014.4 1623.0,1012.2 1632.9,1010.7 1642.7,1008.4 1652.5,1003.4 1662.3,998.5 1672.2,993.4 1682.0,989.4 1691.8,990.5" fill="none" stroke="#2196F3" stroke-width="2" stroke-linejoin="round"/>
<polyline points="2.6,996.7 12.4,997.9 22.2,1000.0 32.0,1002.7 41.9,1005.6 51.7,1008.5 61.5,1011.3 71.3,1013.9 81.2,1016.2 91.0,1018.7 100.8,1021.0 110.6,1023.0 120.4,1024.6 130.3,1025.5 140.1,1025.4 149.9,1024.9 159.7,1024.1 169.5,1023.2 179.4,1022.9 189.2,1022.8 199.0,1022.4 208.8,1022.0 218.6,1021.5 228.5,1021.1 238.3,1020.4 248.1,1019.2 257.9,1017.5 267.8,1016.0 277.6,1014.5 287.4,1012.6 297.2,1009.4 307.0,1004.6 316.9,999.2 326.7,994.3 336.5,990.2 346.3,986.6 356.1,983.6 366.0,981.6 375.8,981.3 385.6,982.0 395.4,982.9 405.2,985.3 415.1,987.9 424.9,989.3 434.7,991.4 444.5,994.6 454.4,998.5 464.2,1003.1 474.0,1008.7 483.8,1014.9 493.6,1020.9 503.5,1026.6 513.3,1031.6 523.1,1034.9 532.9,1037.6 542.7,1039.6 552.6,1040.1 562.4,1039.7 572.2,1039.0 582.0,1037.8 591.8,1035.7 601.7,1033.7 611.5,1032.3 621.3,1030.8 631.1,1028.8 641.0,1027.0 650.8,1025.9 660.6,1025.6 670.4,1027.1 680.2,1029.6 690.1,1032.2 699.9,1034.8 709.7,1038.0 719.5,1041.7 729.3,1045.0 739.2,1049.1 749.0,1054.3 758.8,1058.8 768.6,1062.9 778.4,1066.5 788.3,1069.0 798.1,1070.3 807.9,1069.7 817.7,1068.3 827.5,1067.3 837.4,1065.7 847.2,1063.3 857.0,1060.8 866.8,1057.9 876.7,1055.1 886.5,1052.2 896.3,1049.3 906.1,1046.4 915.9,1043.6 925.8,1040.9 935.6,1038.6 945.4,1036.5 955.2,1034.4 965.0,1032.5 974.9,1031.3 984.7,1030.9 994.5,1030.5 1004.3,1030.2 1014.1,1030.3 1024.0,1030.3 1033.8,1030.5 1043.6,1030.7 1053.4,1031.4 1063.3,1032.3 1073.1,1032.6 1082.9,1032.1 1092.7,1031.2 1102.5,1030.6 1112.4,1030.6 1122.2,1030.6 1132.0,1030.7 1141.8,1032.1 1151.6,1034.4 1161.5,1036.8 1171.3,1038.6 1181.1,1040.0 1190.9,1041.7 1200.7,1043.4 1210.6,1045.0 1220.4,1047.1 1230.2,1049.1 1240.0,1051.5 1249.9,1054.9 1259.7,1058.4 1269.5,1061.3 1279.3,1063.7 1289.1,1066.3 1299.0,1068.4 1308.8,1069.5 1318.6,1070.4 1328.4,1071.7 1338.2,1073.4 1348.1,1075.7 1357.9,1078.4 1367.7,1080.4 1377.5,1081.7 1387.3,1082.9 1397.2,1083.1 1407.0,1081.9 1416.8,1080.0 1426.6,1077.6 1436.5,1074.9 1446.3,1072.0 1456.1,1069.9 1465.9,1068.9 1475.7,1068.2 1485.6,1067.7 1495.4,1067.5 1505.2,1066.9 1515.0,1066.4 1524.8,1066.1 1534.7,1064.8 1544.5,1062.1 1554.3,1058.7 1564.1,1054.6 1573.9,1050.4 1583.8,1045.4 1593.6,1040.1 1603.4,1035.7 1613.2,1031.9 1623.0,1028.3 1632.9,1025.1 1642.7,1021.8 1652.5,1018.0 1662.3,1014.1 1672.2,1010.0 1682.0,1006.3 1691.8,1003.4" fill="none" stroke="#FF6D00" stroke-width="2" stroke-linejoin="round"/>
<rect x="0" y="845" width="1944" height="2" fill="#E0E3EB"/>
<rect x="0" y="954" width="1944" height="2" fill="#E0E3EB"/>
<rect x="1795" y="0" width="149" height="845" fill="#fff"/>
<rect x="1795" y="847" width="149" height="107" fill="#fff"/>
<rect x="1795" y="956" width="149" height="146" fill="#fff"/>
<text transform="translate(1811.76,36.50) scale(1.0903,1)" x="0" y="0" font-size="24.57" font-weight="normal" fill="#131722">1.19500</text>
<text transform="translate(1811.76,128.13) scale(1.0903,1)" x="0" y="0" font-size="24.57" font-weight="normal" fill="#131722">1.19000</text>
<text transform="translate(1811.76,219.75) scale(1.0903,1)" x="0" y="0" font-size="24.57" font-weight="normal" fill="#131722">1.18500</text>
<text transform="translate(1811.76,311.38) scale(1.0903,1)" x="0" y="0" font-size="24.57" font-weight="normal" fill="#131722">1.18000</text>
<text transform="translate(1811.76,403.00) scale(1.0903,1)" x="0" y="0" font-size="24.57" font-weight="normal" fill="#131722">1.17500</text>
<text transform="translate(1811.76,494.63) scale(1.0903,1)" x="0" y="0" font-size="24.57" font-weight="normal" fill="#131722">1.17000</text>
<text transform="translate(1811.76,586.25) scale(1.0903,1)" x="0" y="0" font-size="24.57" font-weight="normal" fill="#131722">1.16500</text>
<text transform="translate(1811.76,677.88) scale(1.0903,1)" x="0" y="0" font-size="24.57" font-weight="normal" fill="#131722">1.16000</text>
<text transform="translate(1811.76,769.50) scale(1.0903,1)" x="0" y="0" font-size="24.57" font-weight="normal" fill="#131722">1.15500</text>
<path d="M1795,250.0 h120 a4,4 0 0 1 4,4 v26 a4,4 0 0 1 -4,4 h-120 z" fill="#F23645"/>
<text transform="translate(1811.76,275.60) scale(1.0903,1)" x="0" y="0" font-size="24.57" font-weight="normal" fill="#fff">1.18195</text>
<path d="M1795,327.9 h120 a4,4 0 0 1 4,4 v26 a4,4 0 0 1 -4,4 h-120 z" fill="#F23645"/>
<text transform="translate(1811.76,353.50) scale(1.0903,1)" x="0" y="0" font-size="24.57" font-weight="normal" fill="#fff">1.17770</text>
<path d="M1795,413.7 h120 a4,4 0 0 1 4,4 v26 a4,4 0 0 1 -4,4 h-120 z" fill="#F23645"/>
<text transform="translate(1811.76,439.30) scale(1.0903,1)" x="0" y="0" font-size="24.57" font-weight="normal" fill="#fff">1.17302</text>
<path d="M1795,496.0 h120 a4,4 0 0 1 4,4 v26 a4,4 0 0 1 -4,4 h-120 z" fill="#F23645"/>
<text transform="translate(1811.76,521.60) scale(1.0903,1)" x="0" y="0" font-size="24.57" font-weight="normal" fill="#fff">1.16853</text>
<path d="M1795,570.8 h120 a4,4 0 0 1 4,4 v26 a4,4 0 0 1 -4,4 h-120 z" fill="#089981"/>
<text transform="translate(1811.76,596.40) scale(1.0903,1)" x="0" y="0" font-size="24.57" font-weight="normal" fill="#fff">1.16446</text>
<path d="M1795,657.6 h120 a4,4 0 0 1 4,4 v26 a4,4 0 0 1 -4,4 h-120 z" fill="#089981"/>
<text transform="translate(1811.76,683.20) scale(1.0903,1)" x="0" y="0" font-size="24.57" font-weight="normal" fill="#fff">1.15972</text>
<path d="M1795,753.8 h120 a4,4 0 0 1 4,4 v26 a4,4 0 0 1 -4,4 h-120 z" fill="#089981"/>
<text transform="translate(1811.76,779.40) scale(1.0903,1)" x="0" y="0" font-size="24.57" font-weight="normal" fill="#fff">1.15446</text>
<text transform="translate(1810.72,866.90) scale(1.1032,1)" x="0" y="0" font-size="24.57" font-weight="normal" fill="#131722">80.00</text>
<text transform="translate(1810.72,930.50) scale(1.1032,1)" x="0" y="0" font-size="24.57" font-weight="normal" fill="#131722">40.00</text>
<path d="M1795,871.3 h90 a4,4 0 0 1 4,4 v26 a4,4 0 0 1 -4,4 h-90 z" fill="#9C56C6"/>
<text transform="translate(1810.46,896.90) scale(1.0938,1)" x="0" y="0" font-size="24.57" font-weight="normal" fill="#fff">60.91</text>
<text transform="translate(1811.32,1039.60) scale(1.0976,1)" x="0" y="0" font-size="24.57" font-weight="normal" fill="#131722">0.00000</text>
<clipPath id="mclip"><rect x="1795" y="956" width="149" height="146"/></clipPath>
<g clip-path="url(#mclip)">
<path d="M1795,933.0 h120 a4,4 0 0 1 4,4 v26 a4,4 0 0 1 -4,4 h-120 z" fill="#2196F3"/>
<text transform="translate(1811.32,958.60) scale(1.1007,1)" x="0" y="0" font-size="24.57" font-weight="normal" fill="#fff">0.00242</text>
</g>
<path d="M1795,967.0 h120 a4,4 0 0 1 4,4 v26 a4,4 0 0 1 -4,4 h-120 z" fill="#FF6D00"/>
<text transform="translate(1811.32,992.60) scale(1.0976,1)" x="0" y="0" font-size="24.57" font-weight="normal" fill="#fff">0.00168</text>
<path d="M1795,1001.0 h120 a4,4 0 0 1 4,4 v26 a4,4 0 0 1 -4,4 h-120 z" fill="#ACE5DC"/>
<text transform="translate(1811.32,1026.60) scale(1.0945,1)" x="0" y="0" font-size="24.57" font-weight="normal" fill="#131722">0.00074</text>
<text transform="translate(16.53,41.20) scale(1.0187,1)" x="0" y="0" font-size="24.14" font-weight="normal" fill="#131722">EUR/USD Spot, 4h</text>
<text transform="translate(238.92,41.20) scale(0.9807,1)" x="0" y="0" font-size="24.14" font-weight="normal" fill="#131722">O</text>
<text transform="translate(259.80,41.20) scale(0.8806,1)" x="0" y="0" font-size="24.14" font-weight="normal" fill="#F23645">1.17117</text>
<text transform="translate(348.69,41.20) scale(1.0429,1)" x="0" y="0" font-size="24.14" font-weight="normal" fill="#131722">H</text>
<text transform="translate(368.32,41.20) scale(0.9212,1)" x="0" y="0" font-size="24.14" font-weight="normal" fill="#F23645">1.17162</text>
<text transform="translate(462.47,41.20) scale(0.9978,1)" x="0" y="0" font-size="24.14" font-weight="normal" fill="#131722">L</text>
<text transform="translate(474.80,41.20) scale(1.0373,1)" x="0" y="0" font-size="24.14" font-weight="normal" fill="#F23645">1.16808</text>
<text transform="translate(579.08,41.20) scale(0.9270,1)" x="0" y="0" font-size="24.14" font-weight="normal" fill="#131722">C</text>
<text transform="translate(594.93,41.20) scale(1.0219,1)" x="0" y="0" font-size="24.14" font-weight="normal" fill="#F23645">1.16853</text>
<text transform="translate(698.50,41.20) scale(1.0779,1)" x="0" y="0" font-size="24.14" font-weight="normal" fill="#F23645">−0.00264 (−0.23%)</text>
<text transform="translate(16.60,887.00) scale(0.9765,1)" x="0" y="0" font-size="24.29" font-weight="normal" fill="#131722">RSI (14)</text>
<text transform="translate(119.68,887.00) scale(1.0054,1)" x="0" y="0" font-size="24.29" font-weight="normal" fill="#9C50C8">60.91</text>
<text transform="translate(16.40,995.80) scale(1.0423,1)" x="0" y="0" font-size="24.00" font-weight="normal" fill="#131722">MACD (12, 26, close, 9)</text>
<text transform="translate(297.58,995.80) scale(1.0676,1)" x="0" y="0" font-size="24.00" font-weight="normal" fill="#ACE5DC">0.00074</text>
<text transform="translate(404.16,995.80) scale(1.0855,1)" x="0" y="0" font-size="24.00" font-weight="normal" fill="#2196F3">0.00242</text>
<text transform="translate(512.48,995.80) scale(1.0576,1)" x="0" y="0" font-size="24.00" font-weight="normal" fill="#FF6D00">0.00168</text>
<text transform="translate(135.53,1141.20) scale(1.0700,1)" x="0" y="0" font-size="24.71" font-weight="normal" fill="#131722">12</text>
<text transform="translate(322.13,1141.20) scale(1.0700,1)" x="0" y="0" font-size="24.71" font-weight="normal" fill="#131722">17</text>
<text transform="translate(499.30,1141.20) scale(1.0700,1)" x="0" y="0" font-size="24.71" font-weight="normal" fill="#131722">21</text>
<text transform="translate(685.77,1141.20) scale(1.0700,1)" x="0" y="0" font-size="24.71" font-weight="normal" fill="#131722">25</text>
<text transform="translate(924.46,1141.20) scale(1.0300,1)" x="0" y="0" font-size="24.71" font-weight="bold" fill="#131722">Oct</text>
<text transform="translate(1115.61,1141.20) scale(1.0700,1)" x="0" y="0" font-size="24.71" font-weight="normal" fill="#131722">5</text>
<text transform="translate(1302.07,1141.20) scale(1.0700,1)" x="0" y="0" font-size="24.71" font-weight="normal" fill="#131722">9</text>
<text transform="translate(1480.74,1141.20) scale(1.0700,1)" x="0" y="0" font-size="24.71" font-weight="normal" fill="#131722">14</text>
<text transform="translate(1657.78,1141.20) scale(1.0700,1)" x="0" y="0" font-size="24.71" font-weight="normal" fill="#131722">17</text>
<rect x="1" y="1" width="1942" height="1158" fill="none" stroke="#EDEFF3" stroke-width="2"/>
</svg></body></html>
